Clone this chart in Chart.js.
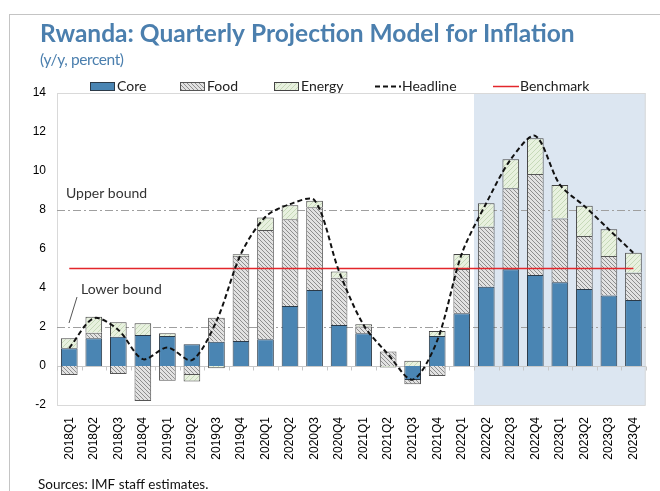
<!DOCTYPE html>
<html>
<head>
<meta charset="utf-8">
<script src="https://cdn.jsdelivr.net/npm/chart.js@4.4.1/dist/chart.umd.min.js"></script>
<style>
  html, body { margin: 0; padding: 0; background: #fff; }
  #wrap { position: relative; width: 660px; height: 491px; overflow: hidden; }
  #frame { position: absolute; left: 9px; top: 14px; right: -2px; bottom: -2px;
           border-left: 1px solid #c4c4c4; border-top: 1px solid #c4c4c4; }
  canvas { position: absolute; left: 0; top: 0; }
</style>
</head>
<body>
<div id="wrap">
  <div id="frame"></div>
  <canvas id="chart" width="660" height="491"></canvas>
</div>
<script>
// quarters on the x axis
const quarters = ['2018Q1', '2018Q2', '2018Q3', '2018Q4',
                  '2019Q1', '2019Q2', '2019Q3', '2019Q4',
                  '2020Q1', '2020Q2', '2020Q3', '2020Q4',
                  '2021Q1', '2021Q2', '2021Q3', '2021Q4',
                  '2022Q1', '2022Q2', '2022Q3', '2022Q4',
                  '2023Q1', '2023Q2', '2023Q3', '2023Q4'];

// contributions to inflation, y/y percent
const core   = [0.91, 1.42, 1.50, 1.59, 1.54, 1.11, 1.25, 1.28, 1.37, 3.08, 3.90, 2.10,
                1.68, 0.00, -0.72, 1.54, 2.70, 4.07, 4.96, 4.67, 4.29, 3.95, 3.62, 3.38];
const food   = [-0.46, 0.29, -0.41, -1.80, -0.75, -0.46, 1.23, 4.38, 5.60, 4.44, 4.24, 2.43,
                0.34, 0.74, -0.22, -0.51, 2.27, 3.07, 4.15, 5.18, 3.28, 2.72, 2.02, 1.40];
const energy = [0.51, 0.82, 0.74, 0.60, 0.14, -0.34, -0.12, 0.07, 0.65, 0.72, 0.34, 0.31,
                0.12, -0.08, 0.27, 0.26, 0.77, 1.20, 1.49, 1.83, 1.71, 1.55, 1.37, 1.03];
const headline = [0.92, 2.45, 1.85, 0.35, 0.95, 0.30, 2.30, 5.75, 7.65, 8.30, 8.50, 4.85,
                  2.10, 0.60, -0.70, 1.30, 5.75, 8.35, 10.60, 11.80, 9.30, 8.20, 7.00, 5.80];
const benchmark = [5, 5, 5, 5, 5, 5, 5, 5, 5, 5, 5, 5,
                   5, 5, 5, 5, 5, 5, 5, 5, 5, 5, 5, 5];

// band and projection period
const upperBound = 8;
const lowerBound = 2;
const projectionStart = '2022Q2';

const yTicks = [-2, 0, 2, 4, 6, 8, 10, 12, 14];

const textFont = 'Lato, "Open Sans", sans-serif';
const tickFont = '"Liberation Sans", Arial, sans-serif';
const titleColor = '#4b7fae';

// hatch fills for food and energy
function makehatch( bg, fg, size, dir ) {
    let c = document.createElement('canvas');
    c.width = size; c.height = size;
    let g = c.getContext('2d');
    g.fillStyle = bg;
    g.fillRect(0, 0, size, size);
    g.strokeStyle = fg;
    g.lineWidth = 1;
    g.beginPath();
    if (dir > 0) {
        g.moveTo(0, size); g.lineTo(size, 0);
        g.moveTo(-1, 1); g.lineTo(1, -1);
        g.moveTo(size - 1, size + 1); g.lineTo(size + 1, size - 1);
    } else {
        g.moveTo(0, 0); g.lineTo(size, size);
        g.moveTo(size - 1, -1); g.lineTo(size + 1, 1);
        g.moveTo(-1, size - 1); g.lineTo(1, size + 1);
    }
    g.stroke();
    return g.createPattern(c, 'repeat');
}

const coreColor = '#4a85b3';
const foodFill = makehatch('#e2e2e2', '#8e8e8e', 4, -1);
const energyFill = makehatch('#e8f1df', '#c6d9b8', 5, 1);

// background: frame, shaded projection period, bounds, zero line
const backdrop = {
    id: 'backdrop',
    beforeDraw(chart) {
        let ctx = chart.ctx;
        let area = chart.chartArea;
        let x = chart.scales.x;
        let i = quarters.indexOf(projectionStart);
        let xstart = (x.getPixelForValue(i - 1) + x.getPixelForValue(i)) / 2;
        ctx.save();
        ctx.fillStyle = '#dce6f1';
        ctx.fillRect(xstart, area.top, area.right - xstart, area.bottom - area.top);
        ctx.restore();
    },
    beforeDatasetsDraw(chart) {
        let ctx = chart.ctx;
        let area = chart.chartArea;
        let x = chart.scales.x;
        let y = chart.scales.y;
        ctx.save();

        // plot frame
        ctx.strokeStyle = '#d9d9d9';
        ctx.lineWidth = 1;
        ctx.strokeRect(area.left + 0.5, area.top + 0.5, area.right - area.left - 1, area.bottom - area.top);

        // upper / lower bound, dash-dot
        ctx.strokeStyle = '#9f9f9f';
        ctx.setLineDash([8, 3, 2, 3]);
        [upperBound, lowerBound].forEach(function(v) {
            let py = Math.round(y.getPixelForValue(v)) + 0.5;
            ctx.beginPath();
            ctx.moveTo(area.left, py);
            ctx.lineTo(area.right, py);
            ctx.stroke();
        });
        ctx.setLineDash([]);

        // zero line with small tick marks
        let zy = Math.round(y.getPixelForValue(0)) + 0.5;
        ctx.strokeStyle = '#c8c8c8';
        ctx.beginPath();
        ctx.moveTo(area.left, zy);
        ctx.lineTo(area.right, zy);
        let half = (x.getPixelForValue(1) - x.getPixelForValue(0)) / 2;
        for (let k = 0; k <= quarters.length; k++) {
            let px = Math.round(x.getPixelForValue(0) - half + k * half * 2) + 0.5;
            ctx.moveTo(px, zy);
            ctx.lineTo(px, zy + 4);
        }
        ctx.stroke();

        // bound labels
        ctx.fillStyle = '#333';
        ctx.font = '14px ' + textFont;
        ctx.textBaseline = 'alphabetic';
        ctx.fillText('Upper bound', area.left + 9, y.getPixelForValue(upperBound) - 12);
        ctx.fillText('Lower bound', area.left + 24, y.getPixelForValue(lowerBound) - 33);
        ctx.strokeStyle = '#555';
        ctx.beginPath();
        ctx.moveTo(area.left + 20, y.getPixelForValue(lowerBound) - 30);
        ctx.lineTo(area.left + 12, y.getPixelForValue(lowerBound) - 4);
        ctx.stroke();
        ctx.restore();
    },
    afterDraw(chart) {
        let ctx = chart.ctx;
        ctx.save();
        ctx.textBaseline = 'alphabetic';
        ctx.fillStyle = titleColor;
        ctx.font = 'bold 24.5px ' + textFont;
        ctx.fillText('Rwanda: Quarterly Projection Model for Inflation', 40, 42);
        ctx.font = '15.5px ' + textFont;
        ctx.letterSpacing = '-0.4px';
        ctx.fillText('(y/y, percent)', 40, 65);
        ctx.letterSpacing = '0px';
        ctx.fillStyle = '#111';
        ctx.font = '13.5px ' + textFont;
        ctx.fillText('Sources: IMF staff estimates.', 38, 489);

        // legend
        let items = [
            {ds: 0, x: 90},
            {ds: 1, x: 180},
            {ds: 2, x: 274},
            {ds: 3, x: 375},
            {ds: 4, x: 493},
        ];
        ctx.font = '14px ' + textFont;
        items.forEach(function(item) {
            let ds = chart.data.datasets[item.ds];
            if (ds.type === 'line') {
                ctx.strokeStyle = ds.borderColor;
                ctx.lineWidth = ds.borderWidth;
                ctx.setLineDash(ds.borderDash || []);
                ctx.beginPath();
                ctx.moveTo(item.x, 86.5);
                ctx.lineTo(item.x + 26, 86.5);
                ctx.stroke();
                ctx.setLineDash([]);
            } else {
                ctx.fillStyle = ds.backgroundColor;
                ctx.fillRect(item.x, 82, 25, 9);
                ctx.strokeStyle = ds.borderColor;
                ctx.lineWidth = 1;
                ctx.strokeRect(item.x + 0.5, 82.5, 24, 8);
            }
            ctx.fillStyle = '#222';
            ctx.fillText(ds.label, item.x + 27, 91);
        });
        ctx.restore();
    }
};

let chart = new Chart(document.getElementById('chart'), {
    type: 'bar',
    data: {
        labels: quarters,
        datasets: [
            {label: 'Core', data: core, backgroundColor: coreColor, borderColor: '#2b3a48',
             borderWidth: 1, stack: 'contrib', order: 2},
            {label: 'Food', data: food, backgroundColor: foodFill, borderColor: '#555',
             borderWidth: 1, stack: 'contrib', order: 2},
            {label: 'Energy', data: energy, backgroundColor: energyFill, borderColor: '#444',
             borderWidth: 1, stack: 'contrib', order: 2},
            {label: 'Headline', type: 'line', data: headline, borderColor: '#111',
             borderWidth: 2, borderDash: [5, 3], pointRadius: 0, tension: 0.3,
             stack: 'headline', order: 0, fill: false},
            {label: 'Benchmark', type: 'line', data: benchmark, borderColor: '#e3262b',
             borderWidth: 1.5, pointRadius: 0, tension: 0,
             stack: 'bench', order: 1, fill: false},
        ]
    },
    options: {
        responsive: false,
        animation: false,
        devicePixelRatio: 1,
        layout: {padding: {left: 0, right: 8, top: 93, bottom: 0}},
        plugins: {legend: {display: false}, tooltip: {enabled: false}},
        datasets: {bar: {barPercentage: 0.68, categoryPercentage: 1.0}},
        scales: {
            x: {
                stacked: true,
                grid: {display: false, drawTicks: false},
                border: {display: false},
                ticks: {
                    minRotation: 90, maxRotation: 90, padding: 12, autoSkip: false,
                    color: '#000', font: {family: tickFont, size: 12}
                },
                afterFit(scale) { scale.height = 86; }
            },
            y: {
                stacked: true,
                min: -2, max: 14,
                afterBuildTicks(scale) { scale.ticks = yTicks.map(v => ({value: v})); },
                grid: {display: false, drawTicks: false},
                border: {display: false},
                ticks: {padding: 11, color: '#000', font: {family: tickFont, size: 12}},
                afterFit(scale) { scale.width = 57; }
            }
        }
    },
    plugins: [backdrop]
});
</script>
</body>
</html>
